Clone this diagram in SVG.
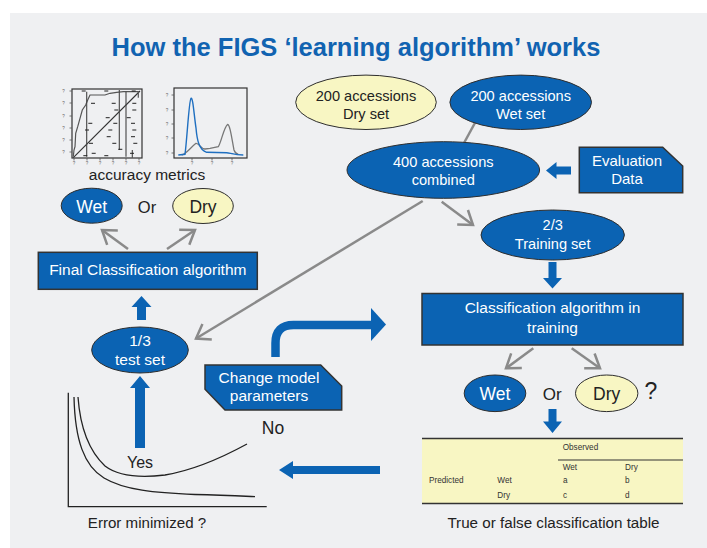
<svg xmlns="http://www.w3.org/2000/svg" width="707" height="548" viewBox="0 0 707 548">
<defs>
<style>
text{font-family:"Liberation Sans",Arial,Helvetica,sans-serif;}
.bg{fill:#eff0f2}
.blue{fill:#0b63b3;stroke:#2e2e2e;stroke-width:1}
.yel{fill:#f8f6c3;stroke:#2e2e2e;stroke-width:1}
.box{fill:#0b63b3;stroke:#333;stroke-width:1.5}
.wt{fill:#fff;text-anchor:middle}
.dk{fill:#222;text-anchor:middle}
.g{stroke:#8a8a8a;stroke-width:2.5;fill:none}
.ba{fill:#0b63b3}
.ax{stroke:#222;stroke-width:1.3;fill:none}
.fr{stroke:#333;stroke-width:1.2;fill:none}
.tk{font-size:4.5px;fill:#666;text-anchor:middle}
.tb{font-size:8.2px;fill:#333}
</style>
<marker id="chev" markerUnits="userSpaceOnUse" markerWidth="20" markerHeight="20" refX="0" refY="0" orient="auto" overflow="visible">
<path d="M-13,-9 L0,0 L-13,9" fill="none" stroke="#8a8a8a" stroke-width="2.5"/>
</marker>
</defs>

<rect x="10" y="13" width="697" height="535" class="bg"/>

<text id="title" x="356" y="56" text-anchor="middle" font-size="25.5" font-weight="bold" fill="#1163b1">How the FIGS ‘learning algorithm’ works</text>

<g id="connectors">
  <path class="g" d="M476,121 L464,143"/>
  <path class="g" d="M422.7,201 L196,338.5" marker-end="url(#chev)"/>
  <path class="g" d="M441.7,201.7 L473,225" marker-end="url(#chev)"/>
  <path class="g" d="M533.3,348.3 L506,368.3" marker-end="url(#chev)"/>
  <path class="g" d="M571.7,348.3 L600,368.3" marker-end="url(#chev)"/>
  <path class="g" d="M128,249 L102,230" marker-end="url(#chev)"/>
  <path class="g" d="M167,249 L195,230" marker-end="url(#chev)"/>
  <polygon class="ba" points="571,166.5 556.5,166.5 556.5,162 546,170.5 556.5,179 556.5,174.5 571,174.5"/>
  <polygon class="ba" points="548.5,262 556.5,262 556.5,278 562,278 552.5,288.5 543,278 548.5,278"/>
  <polygon class="ba" points="548.5,409 556.5,409 556.5,421.5 562,421.5 552.5,433 543,421.5 548.5,421.5"/>
  <polygon class="ba" points="137,320 146,320 146,307 151.5,307 141.5,296 131.5,307 137,307"/>
  <polygon class="ba" points="135,448 145,448 145,388 150,388 140,376 130,388 135,388"/>
  <polygon class="ba" points="380,466 380,474 293,474 293,479 279,470 293,461 293,466"/>
  <path d="M275.5,357 V343 Q275.5,325 293.5,325 H372" fill="none" stroke="#0b63b3" stroke-width="8.5"/>
  <polygon class="ba" points="371,308 386,324.5 371,341"/>
</g>

<g id="dryset">
  <ellipse class="yel" cx="366" cy="102.3" rx="70.3" ry="27.2"/>
  <text class="dk" x="366" y="101" font-size="14.6">200 accessions</text>
  <text class="dk" x="366" y="119.3" font-size="14.6">Dry set</text>
</g>
<g id="wetset">
  <ellipse class="blue" cx="520.7" cy="102.3" rx="70.8" ry="27.2"/>
  <text class="wt" x="520.7" y="101" font-size="14.6">200 accessions</text>
  <text class="wt" x="520.7" y="119.3" font-size="14.6">Wet set</text>
</g>
<g id="combined">
  <ellipse class="blue" cx="443.3" cy="170" rx="96.3" ry="28.3"/>
  <text class="wt" x="443.3" y="166.7" font-size="14.6">400 accessions</text>
  <text class="wt" x="443.3" y="185" font-size="14.6">combined</text>
</g>
<g id="evaluation">
  <polygon class="box" points="579.3,147.3 662.7,147.3 682.7,166 682.7,192.7 579.3,192.7"/>
  <text class="wt" x="627" y="166" font-size="15">Evaluation</text>
  <text class="wt" x="627" y="184.3" font-size="15">Data</text>
</g>
<g id="training">
  <ellipse class="blue" cx="552.7" cy="235" rx="71.7" ry="25"/>
  <text class="wt" x="552.7" y="230" font-size="14.6">2/3</text>
  <text class="wt" x="552.7" y="249" font-size="14.6">Training set</text>
</g>
<g id="classtrain">
  <rect class="box" x="422" y="293.5" width="261" height="51.5"/>
  <text class="wt" x="552.5" y="313.3" font-size="15.5">Classification algorithm in</text>
  <text class="wt" x="552.5" y="332.7" font-size="15.5">training</text>
</g>
<g id="result-right">
  <ellipse class="blue" cx="495" cy="393.3" rx="30.8" ry="18.3"/>
  <text class="wt" x="495" y="400" font-size="17.5">Wet</text>
  <text class="dk" x="552.3" y="400" font-size="17">Or</text>
  <ellipse class="yel" cx="606.7" cy="393.3" rx="31.2" ry="18.3"/>
  <text class="dk" x="606.7" y="400" font-size="17.5">Dry</text>
  <text class="dk" x="651" y="399.3" font-size="23">?</text>
</g>
<g id="table">
  <rect x="422" y="438" width="261" height="66" fill="#f8f6c3"/>
  <line x1="422" y1="438.5" x2="683" y2="438.5" stroke="#333" stroke-width="1.5"/>
  <line x1="558" y1="460" x2="683" y2="460" stroke="#333" stroke-width="1"/>
  <line x1="422" y1="503.5" x2="683" y2="503.5" stroke="#333" stroke-width="1.5"/>
  <text class="tb" x="562.7" y="450">Observed</text>
  <text class="tb" x="562.7" y="469.5">Wet</text>
  <text class="tb" x="625" y="469.5">Dry</text>
  <text class="tb" x="429" y="483">Predicted</text>
  <text class="tb" x="497.3" y="483">Wet</text>
  <text class="tb" x="563" y="483">a</text>
  <text class="tb" x="625" y="483">b</text>
  <text class="tb" x="497.3" y="498">Dry</text>
  <text class="tb" x="563" y="498">c</text>
  <text class="tb" x="625" y="498">d</text>
  <text class="dk" x="553.5" y="527.5" font-size="15.2">True or false classification table</text>
</g>
<g id="changeparams">
  <polygon class="box" points="205,365 320.7,365 341.7,386 341.7,410 225,410 205,389.3"/>
  <text class="wt" x="269" y="382.7" font-size="15.5">Change model</text>
  <text class="wt" x="269" y="400.7" font-size="15.5">parameters</text>
</g>
<g id="errorchart">
  <path class="ax" d="M68.3,392.7 V506.7 H266.7"/>
  <path class="ax" d="M78,397 C80,425 88,450 105,466 C118,476 140,478 165,475 C195,470 225,456 247,444"/>
  <path class="ax" d="M74,397 C75,440 84,466 104,478 C124,490 155,493 195,494.5 C220,495 240,496 255,496.7"/>
  <text class="dk" x="140" y="467.5" font-size="16">Yes</text>
  <text class="dk" x="273" y="433.5" font-size="17.5">No</text>
  <text class="dk" x="147" y="527.5" font-size="15.1">Error minimized ?</text>
</g>
<g id="testset">
  <ellipse class="blue" cx="140" cy="350" rx="48.3" ry="23"/>
  <text class="wt" x="140" y="346" font-size="15.5">1/3</text>
  <text class="wt" x="140" y="365" font-size="15.5">test set</text>
</g>
<g id="finalclass">
  <rect class="box" x="38.3" y="252.3" width="219" height="37"/>
  <text class="wt" x="147.8" y="275.3" font-size="15.5">Final Classification algorithm</text>
</g>
<g id="result-left">
  <ellipse class="blue" cx="91.7" cy="205.7" rx="30.5" ry="17.5"/>
  <text class="wt" x="91.7" y="212.5" font-size="17.5">Wet</text>
  <text class="dk" x="147" y="212.5" font-size="16.5">Or</text>
  <ellipse class="yel" cx="203" cy="206" rx="30.3" ry="17.5"/>
  <text class="dk" x="203" y="212.5" font-size="17.5">Dry</text>
</g>
<g id="metrics">
  <rect class="fr" x="72" y="89" width="70" height="69"/>
  <path d="M73.3,157.7 L140,91" stroke="#333" stroke-width="1.1" fill="none"/>
  <path d="M73.3,156.7 L74,150 L75,146.7 L75.7,133.3 L77.7,126.7 L80,118.3 L82.3,110 L85.7,105 L87.7,100 L90,95 L105,95 L110,93.3 L116.7,92.3 L123.3,91.7 L138.3,91.7 L138.3,97.7" stroke="#555" stroke-width="1.2" fill="none"/>
  <path d="M86.7,91.7 V156.7 M119.3,90 V150 M126,91.7 V156.7 M132.3,150 V157.7" stroke="#444" stroke-width="1.1" fill="none"/>
  <path d="M81.7,91h4 M104.3,91h4 M131.7,91h4 M91,103.3h4 M111.7,103.3h4 M132.3,103.3h4 M114.3,110h4 M132.3,110h4 M105.7,117.7h4 M126.7,117.7h4 M88.3,123.3h4 M113.3,123.3h4 M131,123.3h4 M85,130h4 M108.3,130h4 M132.3,130h4 M106.7,136.7h4 M131,136.7h4 M89,143.3h4 M112.3,143.3h4 M133.3,143.3h4 M118.3,149.3h4 M91.7,153.3h4 M130,153.3h4 M83.3,155.7h4 M104.3,155.7h4" stroke="#222" stroke-width="1" fill="none"/>
  <path d="M69.5,91h2.5 M69.5,103h2.5 M69.5,116h2.5 M69.5,128h2.5 M69.5,140h2.5 M69.5,152h2.5 M74,158v2.5 M87,158v2.5 M100,158v2.5 M113,158v2.5 M126,158v2.5 M139,158v2.5" stroke="#555" stroke-width="0.8"/>
  <g class="tk">
    <text x="63.5" y="93">?</text><text x="63.5" y="105">?</text><text x="63.5" y="118">?</text><text x="63.5" y="130">?</text><text x="63.5" y="142">?</text><text x="63.5" y="154">?</text>
    <text x="74" y="164.8">?</text><text x="87" y="164.8">?</text><text x="100" y="164.8">?</text><text x="113" y="164.8">?</text><text x="126" y="164.8">?</text><text x="139" y="164.8">?</text>
  </g>
  <rect class="fr" x="174" y="88" width="73" height="70"/>
  <path d="M181.7,155 C186,154 190,148 196,143.3 C199,143 201,149 205,149 L210,148.3 L218.3,146.7 C221,143 224,127 227.5,124.5 C230,124 232,140 234,150 C235,153 237,154 238.3,154.3" stroke="#777" stroke-width="1.3" fill="none"/>
  <path d="M178.3,155 L185,154.3 C187,140 189,100 191,98.3 C193,97 194,115 196,128 C197,140 199,150 206.7,152.3 L226.7,152.7 C230,153 235,155 243.3,155" stroke="#1f6fc0" stroke-width="1.4" fill="none"/>
  <path d="M171.5,95h2.5 M171.5,110h2.5 M171.5,124h2.5 M171.5,138h2.5 M171.5,153h2.5 M192,158v2.5 M212,158v2.5 M232,158v2.5" stroke="#555" stroke-width="0.8"/>
  <g class="tk">
    <text x="167" y="97">?</text><text x="167" y="112">?</text><text x="167" y="126">?</text><text x="167" y="140">?</text><text x="167" y="155">?</text>
    <text x="192" y="164.8">?</text><text x="212" y="164.8">?</text><text x="232" y="164.8">?</text>
  </g>
  <text class="dk" x="147" y="180" font-size="15.5">accuracy metrics</text>
</g>
</svg>
